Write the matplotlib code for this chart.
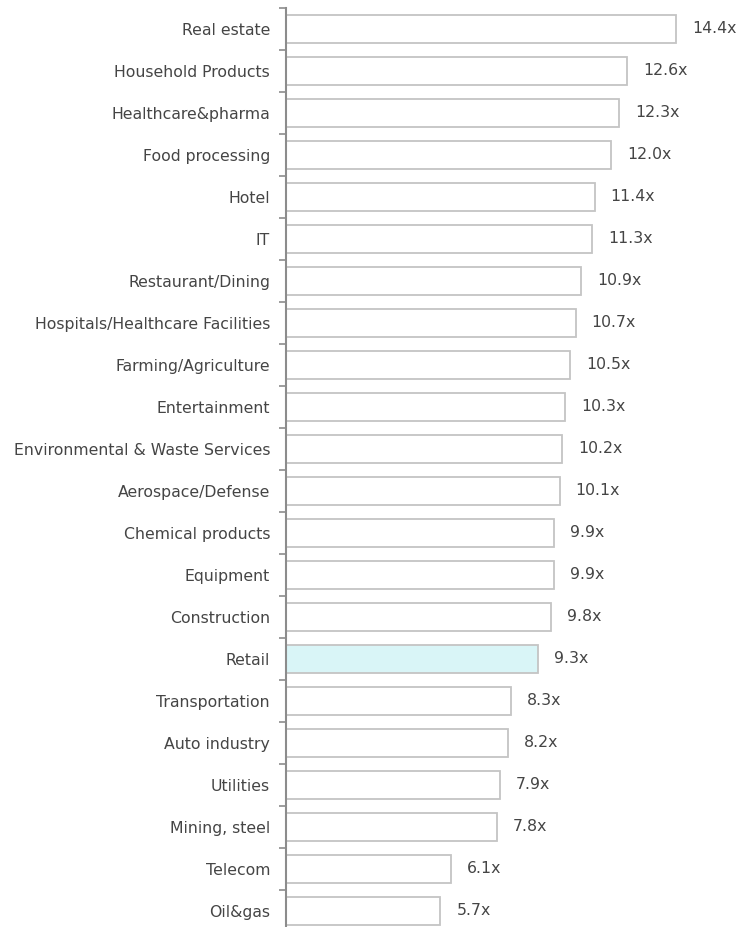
import matplotlib
matplotlib.use("Agg")
import matplotlib.pyplot as plt
import numpy as np

categories = [
    "Real estate", "Household Products", "Healthcare&pharma", "Food processing",
    "Hotel", "IT", "Restaurant/Dining", "Hospitals/Healthcare Facilities",
    "Farming/Agriculture", "Entertainment", "Environmental & Waste Services",
    "Aerospace/Defense", "Chemical products", "Equipment", "Construction",
    "Retail", "Transportation", "Auto industry", "Utilities", "Mining, steel",
    "Telecom", "Oil&gas",
]
multiples = [14.4, 12.6, 12.3, 12.0, 11.4, 11.3, 10.9, 10.7, 10.5, 10.3, 10.2,
             10.1, 9.9, 9.9, 9.8, 9.3, 8.3, 8.2, 7.9, 7.8, 6.1, 5.7]
highlight = "Retail"

W, H = 738, 927
fig = plt.figure(figsize=(W / 100, H / 100), dpi=100)
# axis spine at x=286px, 27.08 px per unit; rows are 42px tall starting at y=8
x0, ppu, row = 286, 27.08, 42.0
xmax = 16
n = len(categories)
top = 8
ax = fig.add_axes([x0 / W, 1 - (top + n * row) / H, xmax * ppu / W, n * row / H])

fs = 11.3
txt = "#454545"
y = np.arange(n)
colors = ["#d9f5f7" if c == highlight else "white" for c in categories]
ax.barh(y, multiples, height=0.67, color=colors, edgecolor="#c4c4c4", linewidth=1.3)

for yi, v in zip(y, multiples):
    ax.annotate(f"{v:.1f}x", (v, yi), xytext=(11.5, 0), textcoords="offset points",
                va="center", ha="left", fontsize=fs, color=txt)

ax.set_ylim(n - 0.5, -0.5)
ax.set_xlim(0, xmax)
ax.set_yticks(y)
ax.set_yticklabels(categories, fontsize=fs, color=txt)
ax.set_yticks(np.arange(n + 1) - 0.5, minor=True)
ax.tick_params(axis="y", which="major", length=0, pad=11.5)
ax.tick_params(axis="y", which="minor", length=5, width=1.2, color="#8c8c8c")
ax.set_xticks([])
for s in ["top", "right", "bottom"]:
    ax.spines[s].set_visible(False)
ax.spines["left"].set_color("#8c8c8c")
ax.spines["left"].set_linewidth(1.5)

fig.savefig("out.png", dpi=100)
